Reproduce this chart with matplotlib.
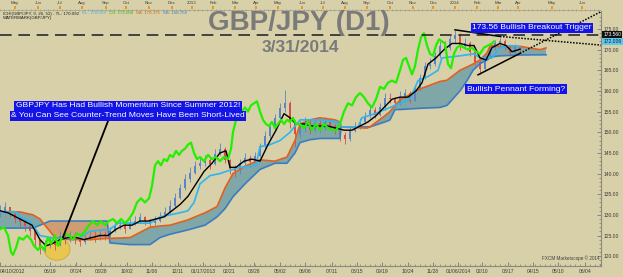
import numpy as np
import matplotlib.pyplot as plt
from matplotlib.patches import Ellipse

W, H = 623, 277
BG = '#d7d0a8'

# ---- price data (x = trading day index, about one pixel per day) ----
candle_x = list(range(0, 525, 5))
first_open = 130.4
close = [131.0, 131.8, 130.2, 129.0, 128.2, 127.4, 126.0, 123.8, 121.8, 122.6,
         123.8, 122.8, 124.8, 124.0, 125.2, 124.2, 123.4, 124.2, 125.0, 124.6,
         125.4, 124.8, 126.2, 127.2, 127.6, 126.6, 128.0, 128.6, 129.4, 128.4,
         128.0, 128.6, 129.6, 130.6, 132.2, 134.0, 136.4, 138.6, 140.2, 141.8,
         142.6, 143.4, 142.2, 144.8, 146.0, 143.2, 141.2, 140.6, 142.6, 143.8,
         142.8, 144.2, 146.6, 149.0, 151.2, 153.4, 155.8, 157.0, 152.4, 149.6,
         151.6, 152.4, 150.6, 152.2, 151.0, 152.6, 151.6, 150.2, 149.4, 148.4,
         150.4, 151.4, 152.4, 154.0, 155.4, 154.2, 156.0, 158.4, 158.0, 157.0,
         158.6, 159.4, 157.6, 160.4, 163.2, 166.0, 166.6, 168.4, 171.0, 170.4,
         172.6, 173.6, 171.0, 171.6, 169.4, 167.0, 165.2, 168.4, 170.4, 171.6,
         172.0, 170.6, 169.2, 170.6, 170.2]
high = [132.5, 133.0, 132.0, 130.8, 129.5, 128.8, 127.8, 126.5, 124.0, 124.0,
        125.0, 124.5, 126.0, 125.8, 126.2, 125.8, 125.0, 125.2, 126.0, 126.0,
        126.5, 126.0, 127.0, 128.2, 129.0, 128.0, 129.0, 129.8, 130.5, 129.8,
        129.0, 129.8, 130.6, 131.8, 133.5, 135.2, 137.5, 139.8, 141.5, 143.0,
        143.8, 144.5, 144.0, 146.0, 147.5, 146.5, 143.5, 142.0, 143.5, 145.0,
        144.5, 145.2, 147.5, 150.2, 152.5, 154.5, 157.0, 160.2, 157.5, 153.0,
        153.0, 153.8, 153.0, 153.5, 153.0, 153.8, 153.2, 152.0, 151.0, 150.0,
        151.2, 152.5, 153.4, 155.0, 156.5, 156.0, 157.0, 159.5, 159.5, 158.5,
        160.0, 160.5, 160.0, 161.5, 164.0, 167.0, 168.0, 169.5, 172.0, 172.2,
        173.5, 174.8, 174.0, 172.8, 172.0, 170.0, 167.5, 169.2, 171.2, 172.4,
        172.9, 172.5, 171.0, 171.4, 171.0]
low = [129.5, 130.5, 129.5, 128.0, 127.0, 126.0, 125.0, 122.5, 120.5, 121.0,
       122.0, 121.5, 122.5, 123.0, 123.5, 123.0, 122.5, 123.0, 123.8, 123.5,
       124.0, 124.0, 124.5, 125.8, 126.5, 125.5, 126.5, 127.5, 128.0, 127.5,
       127.0, 127.6, 128.2, 129.5, 130.5, 132.0, 133.8, 136.0, 138.0, 140.0,
       141.0, 141.8, 141.0, 142.0, 144.5, 142.5, 140.0, 139.2, 140.0, 142.0,
       141.5, 142.5, 144.0, 146.0, 148.5, 150.5, 153.0, 155.0, 151.0, 146.5,
       148.5, 150.0, 149.5, 150.0, 150.0, 150.5, 150.5, 149.5, 148.0, 147.2,
       148.0, 150.0, 150.8, 152.0, 153.5, 153.5, 154.0, 155.5, 157.0, 156.0,
       156.5, 158.0, 157.0, 157.5, 160.0, 163.0, 165.2, 166.0, 168.0, 169.5,
       170.0, 171.5, 170.0, 170.2, 168.5, 166.2, 164.2, 165.0, 168.0, 170.0,
       170.8, 170.0, 168.5, 168.8, 169.5]

# ---- Ichimoku lines ----
tenkan_x = [0, 8, 16, 24, 32, 40, 46, 52, 60, 68, 76, 84, 92, 100, 108, 116, 124, 132, 140, 148,
            156, 164, 172, 180, 188, 196, 204, 212, 220, 226, 230, 236, 244, 252, 260, 268, 276, 284, 290, 296,
            304, 312, 320, 328, 336, 344, 352, 360, 368, 376, 384, 392, 400, 408, 416, 422, 428, 436, 444, 452,
            460, 468, 474, 480, 486, 492, 500, 506, 512, 520]
tenkan = [131.0, 130.5, 129.5, 128.5, 127.5, 124.0, 122.5, 123.0, 124.0, 124.5,
          124.5, 124.0, 124.5, 125.0, 125.0, 126.5, 127.5, 127.5, 128.5, 128.5,
          129.0, 129.5, 131.0, 132.5, 134.5, 137.5, 140.5, 142.5, 145.0, 145.5,
          141.5, 141.5, 143.0, 143.5, 143.0, 147.0, 150.5, 154.5, 153.5, 152.0,
          152.0, 151.5, 151.5, 151.5, 151.0, 150.5, 150.5, 151.5, 152.5, 154.0,
          156.0, 158.0, 158.5, 158.5, 160.0, 162.0, 166.5, 168.0, 170.0, 171.5,
          171.5, 171.0, 171.0, 168.0, 167.5, 170.5, 171.5, 171.0, 169.5, 170.1]

kijun_x = [0, 16, 22, 30, 40, 50, 60, 70, 80, 90, 100, 110, 118, 130, 140, 150, 160, 170, 180, 188,
           194, 200, 210, 220, 226, 240, 256, 260, 270, 280, 290, 300, 320, 338, 342, 358, 362, 375, 385, 395,
           410, 418, 428, 438, 442, 460, 474, 480, 492, 500, 510, 520]
kijun = [130.7, 130.7, 129.0, 128.5, 125.0, 124.5, 124.3, 124.3, 124.5, 126.0,
         126.3, 126.5, 128.0, 128.0, 128.0, 128.0, 129.5, 130.0, 130.5, 131.0,
         133.0, 137.5, 139.5, 140.0, 140.5, 141.5, 142.0, 146.5, 147.0, 148.0,
         150.0, 153.0, 153.0, 152.5, 151.3, 151.3, 153.5, 154.5, 155.5, 156.5,
         158.0, 162.5, 163.5, 165.0, 168.0, 168.5, 169.0, 168.0, 168.0, 170.5,
         171.0, 170.7]

chikou_x = [0, 4, 8, 11, 13, 16, 19, 23, 27, 31, 34, 38, 41, 44, 48, 51, 55, 58, 61, 65,
            69, 73, 77, 81, 85, 89, 93, 97, 101, 105, 109, 113, 117, 121, 125, 129, 133, 137, 141, 145,
            149, 152, 155, 158, 161, 164, 167, 170, 173, 176, 179, 182, 185, 188, 191, 194, 197, 200, 204, 208,
            212, 216, 220, 224, 228, 231, 233, 236, 239, 242, 245, 248, 251, 254, 257, 260, 263, 266, 269, 272,
            275, 278, 281, 284, 287, 290, 293, 296, 300, 304, 308, 312, 316, 320, 324, 328, 332, 336, 340, 344,
            348, 352, 356, 360, 364, 368, 372, 376, 380, 384, 388, 392, 396, 400, 403, 406, 409, 412, 415, 418,
            421, 424, 427, 430, 433, 436, 439, 442, 445, 448, 451, 454, 457, 460, 464, 468, 472, 476, 480, 484,
            488, 492, 494]
chikou = [126.5, 127.0, 125.0, 121.0, 120.3, 122.0, 124.5, 124.0, 125.0, 124.0,
          122.5, 121.5, 122.5, 121.5, 124.5, 123.0, 125.0, 122.5, 124.0, 125.5,
          125.0, 124.0, 125.5, 125.0, 126.0, 127.5, 128.5, 127.5, 128.5, 127.5,
          128.5, 129.0, 128.0, 129.0, 128.0, 129.0, 130.5, 133.0, 134.0, 133.0,
          134.0, 137.0, 142.0, 143.0, 142.0, 143.5, 143.0, 144.5, 144.0, 145.5,
          144.5, 145.5, 146.0, 147.0, 147.5, 145.0, 143.5, 144.0, 143.0, 144.5,
          143.5, 144.0, 143.0, 144.0, 143.5, 146.0, 150.0, 153.0, 155.5, 155.0,
          156.0, 155.0, 156.5, 157.0, 157.5, 155.0, 153.0, 152.0, 151.5, 152.5,
          151.0, 152.0, 153.0, 152.0, 153.0, 152.5, 153.5, 152.0, 152.0, 151.0,
          152.5, 150.5, 152.0, 150.5, 152.0, 151.0, 150.5, 150.5, 152.0, 155.0,
          157.0, 156.5, 158.5, 159.5, 158.5, 157.0, 156.0, 158.0, 161.0, 160.5,
          162.0, 162.5, 162.0, 165.0, 167.5, 168.0, 166.0, 164.0, 166.0, 170.0,
          173.0, 174.0, 171.0, 169.0, 168.5, 171.0, 172.5, 172.0, 171.5, 166.5,
          165.5, 169.0, 170.5, 171.0, 170.5, 170.0, 170.5, 169.5, 169.0, 170.5,
          171.0, 171.5, 172.006]

cloud_x = [0, 10, 20, 33, 40, 45, 50, 55, 70, 90, 107, 110, 130, 150, 160, 170, 187, 205, 217, 225,
           233, 245, 260, 275, 287, 295, 300, 310, 320, 335, 340, 341, 367, 370, 385, 390, 395, 400, 420, 440,
           447, 460, 467, 473, 480, 487, 490, 493, 500, 520, 540, 546]
senkou_a = [130.7, 130.8, 130.7, 130.0, 129.0, 127.5, 126.0, 124.5, 124.0, 124.0,
            124.3, 124.3, 124.5, 127.0, 127.3, 127.5, 128.7, 130.5, 132.0, 136.5,
            140.0, 141.8, 143.3, 143.0, 144.0, 148.0, 152.0, 153.0, 153.5, 153.0,
            152.5, 151.3, 151.0, 151.3, 154.0, 155.0, 156.5, 157.8, 160.5, 162.3,
            162.6, 165.0, 165.8, 166.5, 167.5, 169.2, 170.8, 171.0, 170.8, 170.8,
            170.0, 170.4]
senkou_b = [126.8, 126.8, 126.8, 126.8, 127.5, 128.0, 128.5, 128.5, 128.5, 128.5,
            128.5, 123.2, 122.8, 122.8, 124.5, 125.3, 126.3, 127.5, 129.5, 131.5,
            134.4, 137.5, 141.0, 142.5, 142.5, 145.0, 147.5, 148.2, 148.5, 148.5,
            148.5, 151.3, 151.3, 151.3, 152.5, 153.0, 155.5, 155.5, 155.8, 156.0,
            156.5, 160.0, 162.5, 165.0, 166.6, 167.5, 168.0, 168.3, 168.5, 168.7,
            168.75, 168.75]

trigger = 173.56
cs_last = 172.006

price_ticks = [120, 125, 130, 135, 140, 145, 150, 155, 160, 165, 170, 175]
date_pos = [0, 50, 76, 101, 127, 152, 178, 203, 229, 254, 280, 305, 332, 357, 382, 408, 433, 458,
            482, 508, 533, 558, 585]
date_labels = ['04/10/2012', '06/19', '07/24', '08/28', '10/02', '11/06', '12/11', '01/17/2013',
               '02/21', '03/28', '05/02', '06/06', '07/11', '08/15', '09/19', '10/24', '11/28',
               '01/06/2014', '02/10', '03/17', '04/15', '05/10', '06/04']
month_pos = [15, 38, 60, 82, 106, 126, 149, 172, 192, 213, 235, 256, 278, 302, 323, 345, 367,
             390, 413, 433, 455, 477, 498, 518, 552, 582]
month_labels = ['May', 'Jun', 'Jul', 'Aug', 'Sep', 'Oct', 'Nov', 'Dec', '2013', 'Feb', 'Mar', 'Apr',
                'May', 'Jun', 'Jul', 'Aug', 'Sep', 'Oct', 'Nov', 'Dec', '2014', 'Feb', 'Mar', 'Apr',
                'May', 'Jun']


def fx(px):
    return px / W


def fy(py):
    return 1 - py / H


plt.rcParams['font.family'] = ['Liberation Sans', 'DejaVu Sans']

fig = plt.figure(figsize=(W / 100, H / 100), dpi=100, facecolor=BG)

X_MAX = 601
Y_TOP, Y_BOT = 11, 266
# price -> pixel: y = 29 + (175 - p) * 4.13
ax = fig.add_axes([0, fy(Y_BOT), fx(X_MAX), (Y_BOT - Y_TOP) / H])
ax.set_facecolor(BG)
ax.set_xlim(0, X_MAX)
ax.set_ylim(175 - (Y_BOT - 29) / 4.13, 175 + (29 - Y_TOP) / 4.13)

# cloud
sa = np.array(senkou_a)
sb = np.array(senkou_b)
ax.fill_between(cloud_x, sa, sb, where=sa >= sb, interpolate=True,
                color='#80a7a8', lw=0, zorder=1)
ax.fill_between(cloud_x, sa, sb, where=sa < sb, interpolate=True,
                color='#cf9d72', lw=0, zorder=1)

# yellow highlight circle
ax.add_patch(Ellipse((57, 121.7), 26, 5.4, fc='#ecc545', ec='#c9a437',
                     lw=0.6, alpha=0.9, zorder=1.5))

# candles
opens = [first_open] + close[:-1]
cols = ['#5a84c6' if c >= o else '#d4504a' for o, c in zip(opens, close)]
lo = [min(l, o, c) for l, o, c in zip(low, opens, close)]
hi = [max(h, o, c) for h, o, c in zip(high, opens, close)]
ax.vlines(candle_x, lo, hi, colors=cols, lw=0.6, zorder=2)
ax.bar(candle_x, [c - o for o, c in zip(opens, close)], bottom=opens,
       width=2.2, color=cols, lw=0, zorder=2)

# lines
ax.plot(cloud_x, senkou_b, color='#3a7cc2', lw=1.2, zorder=3)
ax.plot(cloud_x, senkou_a, color='#e2601e', lw=1.2, zorder=3)
ax.plot(kijun_x, kijun, color='#2cb6f2', lw=1.2, zorder=4)
ax.plot(tenkan_x, tenkan, color='black', lw=1.0, zorder=5)
ax.plot(chikou_x, chikou, color='#22f000', lw=1.6, zorder=6)

# trigger level and pennant
ax.axhline(trigger, color='#2a2a2a', lw=1.2, dashes=(7, 4), zorder=7)
ax.plot([455, 500], [174.8, 173.2], color='black', lw=1.1, zorder=7)
ax.plot([500, 601], [173.2, 171.1], color='black', lw=1.1, ls=(0, (1, 1)), zorder=7)
ax.plot([478, 520], [163.9, 169.1], color='black', lw=1.1, zorder=7)
ax.plot([520, 601], [169.1, 179.2], color='black', lw=1.1, ls=(0, (1, 1)), zorder=7)

# annotation pointer
ax.plot([108, 63], [152.7, 124.6], color='black', lw=1.3, zorder=7)

box = dict(boxstyle='square,pad=0.18', fc='#1414e6', ec='none')
tkw = dict(color='white', fontsize=6.1, ha='center', va='center', zorder=8, bbox=box)
ax.text(128, 156.4, 'GBPJPY Has Had Bullish Momentum Since Summer 2012!', **tkw)
ax.text(128, 153.95, '& You Can See Counter-Trend Moves Have Been Short-Lived', **tkw)
ax.text(532, 175.25, '173.56 Bullish Breakout Trigger', **tkw)
ax.text(516, 160.4, 'Bullish Pennant Forming?', **tkw)

# axes styling
for s in ['top', 'left']:
    ax.spines[s].set_visible(False)
ax.spines['right'].set_color('#8a8a80')
ax.spines['bottom'].set_color('#8a8a80')
ax.spines['right'].set_linewidth(0.8)
ax.spines['bottom'].set_linewidth(0.8)
ax.yaxis.tick_right()
ax.set_yticks(price_ticks)
ax.set_yticklabels(['%.2f' % p for p in price_ticks])
ax.set_yticks(np.arange(118, 180, 1), minor=True)
ax.tick_params(axis='y', which='major', direction='in', length=3, width=0.5,
               labelsize=3.6, labelcolor='#3a3a3a', color='#6a6a60', pad=2)
ax.tick_params(axis='y', which='minor', direction='in', length=1.5, width=0.4, color='#6a6a60')
ax.set_xticks(date_pos)
ax.set_xticklabels(date_labels)
ax.set_xticks(np.arange(0, X_MAX, 5), minor=True)
ax.tick_params(axis='x', which='major', direction='in', length=3, width=0.5,
               labelsize=3.6, labelcolor='#3a3a3a', color='#6a6a60', pad=2)
ax.tick_params(axis='x', which='minor', direction='in', length=1.5, width=0.4, color='#6a6a60')
ax.get_xticklabels()[0].set_ha('left')

# price boxes on right axis
ax.text(1.004, trigger, '173.560', transform=ax.get_yaxis_transform(), fontsize=3.6,
        color='white', va='center', ha='left',
        bbox=dict(boxstyle='square,pad=0.2', fc='#101010', ec='none'), clip_on=False)
ax.text(1.004, cs_last, '172.006', transform=ax.get_yaxis_transform(), fontsize=3.6,
        color='#1a1a1a', va='center', ha='left',
        bbox=dict(boxstyle='square,pad=0.2', fc='#5cc8f0', ec='none'), clip_on=False)

# top month ruler
axt = fig.add_axes([0, fy(Y_TOP), fx(X_MAX), Y_TOP / H])
axt.set_facecolor(BG)
axt.set_xlim(0, X_MAX)
axt.set_ylim(0, 1)
for s in axt.spines.values():
    s.set_visible(False)
axt.set_yticks([])
axt.set_xticks(np.arange(0, X_MAX, 4.4), minor=True)
axt.set_xticks([])
axt.tick_params(axis='x', which='minor', direction='in', length=1.5, width=0.4,
                color='#8a8a80', bottom=True)
axt.axhline(0.04, color='#f2eedc', lw=1.0)
axt.axhline(0.12, color='#9a9a8c', lw=0.5)
for p, m in zip(month_pos, month_labels):
    axt.text(p, 0.75, m, fontsize=3.2, color='#404040', ha='center', va='center')
    axt.plot([p, p], [0.15, 0.42], color='#ec9420', lw=1.4, solid_capstyle='butt')

# title and date
fig.text(fx(299), fy(30), 'GBP/JPY (D1)', ha='center', va='baseline', fontsize=20,
         weight='bold', color='#7a7a7a')
fig.text(fx(300), fy(52), '3/31/2014', ha='center', va='baseline', fontsize=12.5,
         weight='bold', color='#7a7a7a')

# indicator header, pieces laid out one after another
hdr = [('ICHI(GBP/JPY, 9, 26, 52) - TL: 170.092', '#202020'),
       ('KL: 170.659', '#2cb6f2'),
       ('CS: 172.006', '#22c000'),
       ('SA: 170.375', '#e2601e'),
       ('SB: 168.750', '#3a7cc2')]
fig.canvas.draw()
rend = fig.canvas.get_renderer()
xpos = fx(3)
for t, c in hdr:
    txt = fig.text(xpos, fy(13.5), t, fontsize=3.2, color=c, ha='left', va='center')
    bb = txt.get_window_extent(rend)
    xpos = (bb.x1 + 3) / W
fig.text(fx(3), fy(17.5), 'WATERMARK(GBP/JPY)', fontsize=3.2, color='#202020', ha='left', va='center')

fig.text(fx(600), fy(258), 'FXCM Marketscope \u00a9 2014', fontsize=3.3, color='#404040',
         ha='right', va='center')

fig.savefig('out.png', dpi=100, facecolor=BG)
